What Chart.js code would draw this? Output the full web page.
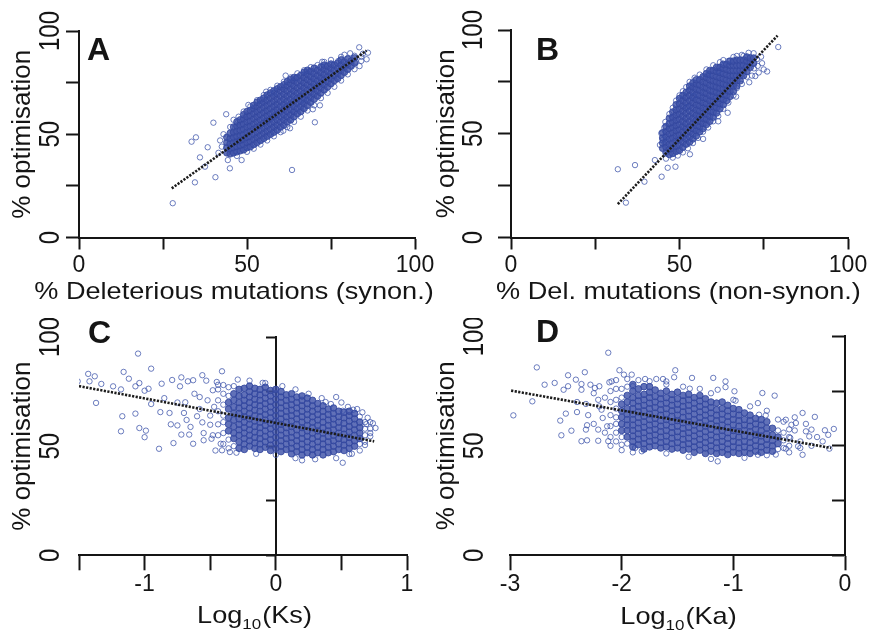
<!DOCTYPE html>
<html><head><meta charset="utf-8">
<script src="https://cdn.jsdelivr.net/npm/chart.js@4.4.1/dist/chart.umd.min.js"></script>
<style>
html,body{margin:0;padding:0;background:#fff;}
#wrap{position:relative;width:872px;height:637px;overflow:hidden;background:#fff;}
canvas{position:absolute;}
</style></head><body>
<div id="wrap">
<canvas id="cA" width="446" height="318" style="left:0;top:0"></canvas>
<canvas id="cB" width="436" height="318" style="left:436px;top:0"></canvas>
<canvas id="cC" width="436" height="319" style="left:0;top:318px"></canvas>
<canvas id="cD" width="436" height="319" style="left:436px;top:318px"></canvas>
</div>
<script>
// ---------- tick labels & titles ----------
const yTickLabels = [0, 50, 100];
const aXLabels = [0, 50, 100];
const bXLabels = [0, 50, 100];
const cXLabels = [-1, 0, 1];
const dXLabels = [-3, -2, -1, 0];
const yTitleText = '% optimisation';
const aXTitle = [['% Deleterious mutations (synon.)', 0]];
const bXTitle = [['% Del. mutations (non-synon.)', 0]];
const cXTitle = [['Log', 0], ['10', 1], ['(Ks)', 0]];
const dXTitle = [['Log', 0], ['10', 1], ['(Ka)', 0]];

// ---------- panel A : % deleterious (synon.) vs % optimisation ----------
const aFit = [[27.6, 23.8], [85.6, 90.5]];
const aScatter = [[27.9,16.6],[34.5,26.7],[33.5,46.4],[34.8,48.5],[36.0,38.8],[37.5,34.3],[38.3,43.7],[40.0,55.6],[40.6,29.2],[43.8,59.7],[44.9,33.5],[44.3,37.5],[48.4,37.5],[50.4,64.2],[55.7,70.6],[58.1,70.1],[61.5,78.4],[64.5,77.1],[63.4,32.7],[70.2,55.8],[69.6,62.1],[71.7,64.0],[72.4,85.1],[80.7,89.2],[83.4,92.1],[85.6,86.3],[82.4,85.1],[77.2,85.5],[67.6,80.3],[62.8,52.9],[60.8,51.7],[66.8,66.6],
[42,47],[42.5,44],[43,50],[41.5,41],[45,53.5],[46,57],[47.5,58.5],[49,61],[51,63.5],[53,66.5],[55,69],[57,71.5],[59,73.5],[61,75.5],[63,77.5],[65,79.5],[67,81],[69,82.5],[71,83.5],[73,85],[75,86],[78,87.5],[79,88.5],[82,88],[84,87.5],[84.5,89],[86,89.5],[47,39.5],[50,41.5],[52,43],[54,45],[56,47],[58,49],[60,51],[62,53.5],[64,56],[66,58.5],[68,61.5],[70,64],[72,67.5],[74,70],[76,73],[78,76],[80,79],[82,81.5],[83.5,83],[84,85.5]];
const aFringe = [];
const aCore = [
[44,[41,43.5,46,48.5]],[45,[40.5,43,45.5,48,50.5]],[46,[41,43.5,46,48.5,51,53.5]],
[47,[41.5,44,46.5,49,51.5,54,56]],[48,[42,44.5,47,49.5,52,54.5,57]],[49,[42.5,45,47.5,50,52.5,55,57.5,59.5]],
[50,[43.5,46,48.5,51,53.5,56,58.5,61]],[51,[44,46.5,49,51.5,54,56.5,59,61.5]],
[52,[45,47.5,50,52.5,55,57.5,60,62.5,64]],[53,[46,48.5,51,53.5,56,58.5,61,63.5,65.5]],
[54,[47,49.5,52,54.5,57,59.5,62,64.5,66.5]],[55,[48,50.5,53,55.5,58,60.5,63,65.5,67.5]],
[56,[49,51.5,54,56.5,59,61.5,64,66.5,69]],[57,[50,52.5,55,57.5,60,62.5,65,67.5,70]],
[58,[51,53.5,56,58.5,61,63.5,66,68.5,71]],[59,[52,54.5,57,59.5,62,64.5,67,69.5,72]],
[60,[53.5,56,58.5,61,63.5,66,68.5,71,73]],[61,[54.5,57,59.5,62,64.5,67,69.5,72,74]],
[62,[56,58.5,61,63.5,66,68.5,71,73.5,75.5]],[63,[57,59.5,62,64.5,67,69.5,72,74.5,76.5]],
[64,[58.5,61,63.5,66,68.5,71,73.5,76,77.5]],[65,[60,62.5,65,67.5,70,72.5,75,77.5]],
[66,[61,63.5,66,68.5,71,73.5,76,78.5]],[67,[62.5,65,67.5,70,72.5,75,77.5,80]],
[68,[64,66.5,69,71.5,74,76.5,79,81]],[69,[65.5,68,70.5,73,75.5,78,80.5]],
[70,[67,69.5,72,74.5,77,79.5,82]],[71,[68.5,71,73.5,76,78.5,81]],[72,[70,72.5,75,77.5,80,82.5]],
[73,[71.5,74,76.5,79,81.5,83.5]],[74,[73,75.5,78,80.5,83]],[75,[74.5,77,79.5,82,84]],
[76,[76,78.5,81,83.5]],[77,[77,79.5,82,84.5]],[78,[78.5,81,83.5,86]],[79,[80,82.5,85]],
[80,[81.5,84,86.5]],[81,[83,85.5]],[82,[84.5,87]]];

// ---------- panel B : % del. (non-synon.) vs % optimisation ----------
const bFit = [[31.7, 16.1], [79.1, 97.3]];
const bScatter = [[31.7,32.9],[34.1,16.8],[36.8,34.9],[39.6,26.9],[42.7,37.3],[44.7,29.3],[46.5,33.6],[48.8,34.1],[45.8,55.7],[44.6,50.2],[44.2,44.6],[53.1,40.1],[52.4,63.0],[54.2,68.2],[58.4,78.3],[61.6,80.2],[64.5,85.1],[66.8,67.9],[64.3,60.1],[68.5,88.0],[72.0,88.8],[70.7,74.8],[72.5,77.8],[74.2,87.1],[79.3,91.8],[73.2,82.7],[72.1,81.5],
[45,47],[45.5,53],[46,38],[47,59.5],[48,62.5],[49,66],[50,68.5],[51,70.5],[52,72.5],[53,75],[54.5,77],[56,78.5],[58,81],[60,83],[62,84.5],[63,85.5],[66,87],[67,87.5],[69,87.5],[70.5,89],[73,86],[74.5,84],[75,81],[76,80],[73.5,79.5],[71.5,78],[70,77.5],[68.5,74],[67,72],[66,68.5],[64.5,65],[63,62],[61.5,58.5],[60,56],[58.5,53],[57,51],[55.5,48],[54,45.5],[52.5,43],[51,41],[49.5,39.5],[48,38.5],[57,47.5],[61.5,56]];
const bFringe = [];
const bCore = [
[45,[43,45.5,48,50.5]],[46,[41,43.5,46,48.5,51,53.5]],[47,[40,42.5,45,47.5,50,52.5,55,57.5]],
[48,[40.5,43,45.5,48,50.5,53,55.5,58,60.5]],[49,[41.5,44,46.5,49,51.5,54,56.5,59,61.5,64]],
[50,[42,44.5,47,49.5,52,54.5,57,59.5,62,64.5,67]],[51,[43.5,46,48.5,51,53.5,56,58.5,61,63.5,66,68.5]],
[52,[45,47.5,50,52.5,55,57.5,60,62.5,65,67.5,70]],[53,[46,48.5,51,53.5,56,58.5,61,63.5,66,68.5,71,73]],
[54,[47.5,50,52.5,55,57.5,60,62.5,65,67.5,70,72.5,74.5]],[55,[49,51.5,54,56.5,59,61.5,64,66.5,69,71.5,74,76]],
[56,[51,53.5,56,58.5,61,63.5,66,68.5,71,73.5,76]],[57,[52.5,55,57.5,60,62.5,65,67.5,70,72.5,75,77.5]],
[58,[54.5,57,59.5,62,64.5,67,69.5,72,74.5,77,79]],[59,[56,58.5,61,63.5,66,68.5,71,73.5,76,78.5,80.5]],
[60,[58,60.5,63,65.5,68,70.5,73,75.5,78,80.5]],[61,[60,62.5,65,67.5,70,72.5,75,77.5,80,82]],
[62,[62,64.5,67,69.5,72,74.5,77,79.5,82]],[63,[64,66.5,69,71.5,74,76.5,79,81.5,83.5]],
[64,[66,68.5,71,73.5,76,78.5,81,83.5]],[65,[68,70.5,73,75.5,78,80.5,83,85]],
[66,[70.5,73,75.5,78,80.5,83,85]],[67,[73,75.5,78,80.5,83,85.5]],[68,[75.5,78,80.5,83,85.5]],
[69,[78,80.5,83,85.5]],[70,[80,82.5,85,87]],[71,[82,84.5,86.5]],[72,[84,86.5]]];

// ---------- panel C : log10(Ks) vs % optimisation ----------
const cFit = [[-1.5, 77.5], [0.75, 52.2]];
const cScatter = [[-1.51,79.7],[-1.43,83.1],[-1.38,82.0],[-1.42,79.7],[-1.33,78.5],[-1.37,69.8],[-1.24,77.4],[-1.18,76.0],[-1.16,84.0],[-1.12,80.9],[-1.05,92.4],[-1.07,77.4],[-1.04,78.9],[-1.00,75.4],[-0.97,76.3],[-0.95,85.5],[-1.17,63.7],[-1.18,56.8],[-1.07,64.9],[-1.04,58.3],[-0.99,57.1],[-1.0,54.1],[-0.95,69.3],[-0.88,65.6],[-0.89,48.8],[-0.87,78.6],[-0.81,65.2],[-0.79,80.3],[-0.78,51.4],[-0.75,59.5],[-0.73,77.4],[-0.72,81.5],[-0.72,55.3],[-0.70,65.2],[-0.69,70.1],[-0.67,79.7],[-0.66,55.3],[-0.65,58.8],[-0.63,51.1],[-0.63,80.2],[-0.60,63.7],[-0.58,72.5],[-0.56,82.5],[-0.56,60.9],[-0.55,56.0],[-0.55,52.7],[-0.53,80.0],[-0.50,59.8],[-0.49,53.4],[-0.48,75.6],[-0.45,79.4],[-0.41,84.3],[-0.44,78.1],[-0.42,51.1],[-0.41,48.1],[-0.35,47.3],[-0.29,80.5],[-0.08,78.9],[0.46,72.5],[0.51,42.4],[0.56,46.4],[0.76,58.3],[0.69,60.1],[0.38,70.2],[0.42,69.3],[0.59,66.7],[0.51,66.2],
[-0.85,72],[-0.8,60],[-0.75,70],[-0.68,62],[-0.62,74],[-0.58,67],[-0.52,71],[-0.5,64],[-0.48,55],[-0.47,68],[-0.46,48],[-0.2,80],[-0.1,79],[0.05,77.5],[0.15,76],[0.25,74],[0.35,72],[0.5,70],[0.55,68],[0.62,67],[0.66,65.5],[0.7,63],[0.74,60.5],[0.72,56],[0.68,50.5],[0.64,48],[0.58,46.5],[0.46,44.5],[0.3,44],[0.15,44.5],[0.0,46],[-0.15,46.5],[-0.3,47],[0.2,43.5]];
const cFringe = [[-0.44,[55,60,66,71,76]],[-0.40,[51,56,61,64,69,74,78]],[-0.36,[49,53,73,77]],[-0.32,[50,77.5]],
[0.64,[51,63.5]],[0.68,[52,55,58,61]],[0.72,[54.5,58,61]]];
const cCore = [
[-0.36,[57,60,63,67,70]],
[-0.32,[53.5,56,59,62,65,68,71,74]],[-0.28,[49,52,55,57.5,60,62.5,65,67.5,70,73,76]],
[-0.24,[48.5,51,53.5,56,58.5,61,63.5,66,68.5,71,73.5,76.5]],[-0.20,[50,52.5,55,57.5,60,62.5,65,67.5,70,72.5,75,77.5]],
[-0.16,[49,51.5,54,56.5,59,61.5,64,66.5,69,71.5,74,76.5]],[-0.12,[48.5,51,53.5,56,58.5,61,63.5,66,68.5,71,73.5,76]],
[-0.08,[49.5,52,54.5,57,59.5,62,64.5,67,69.5,72,74.5,77]],[-0.04,[48,50.5,53,55.5,58,60.5,63,65.5,68,70.5,73,75.5]],
[0.00,[49,51.5,54,56.5,59,61.5,64,66.5,69,71.5,74,76]],[0.04,[47.5,50,52.5,55,57.5,60,62.5,65,67.5,70,72.5,75]],
[0.08,[48.5,51,53.5,56,58.5,61,63.5,66,68.5,71,73.5]],[0.12,[46.5,49,51.5,54,56.5,59,61.5,64,66.5,69,71.5,74]],
[0.16,[47.5,50,52.5,55,57.5,60,62.5,65,67.5,70,72.5]],[0.20,[46,48.5,51,53.5,56,58.5,61,63.5,66,68.5,71,73]],
[0.24,[47,49.5,52,54.5,57,59.5,62,64.5,67,69.5,72]],[0.28,[46,48.5,51,53.5,56,58.5,61,63.5,66,68.5,71]],
[0.32,[47,49.5,52,54.5,57,59.5,62,64.5,67,69.5]],[0.36,[46,48.5,51,53.5,56,58.5,61,63.5,66,68.5]],
[0.40,[47,49.5,52,54.5,57,59.5,62,64.5,67]],[0.44,[47.5,50,52.5,55,57.5,60,62.5,65,67.5]],
[0.48,[48.5,51,53.5,56,58.5,61,63.5,66]],[0.52,[48,50.5,53,55.5,58,60.5,63,65.5]],
[0.56,[49,51.5,54,56.5,59,61.5,64,66]],[0.60,[50,52.5,55,57.5,60,62.5,65]],[0.64,[53.5,56,58.5,61]]];

// ---------- panel D : log10(Ka) vs % optimisation ----------
const dFit = [[-2.99, 75.2], [-0.125, 49.0]];
const dScatter = [[-2.97,63.9],[-2.80,70.3],[-2.76,85.8],[-2.69,77.9],[-2.60,78.7],[-2.55,61.5],[-2.54,54.8],[-2.52,75.6],[-2.50,64.7],[-2.48,82.2],[-2.45,56.9],[-2.48,77.2],[-2.41,80.2],[-2.40,65.4],[-2.36,78.2],[-2.36,75.6],[-2.33,83.6],[-2.32,57.4],[-2.36,52.1],[-2.31,52.5],[-2.31,59.4],[-2.32,69.1],[-2.28,77.9],[-2.24,76.4],[-2.20,77.2],[-2.21,52.3],[-2.21,57.4],[-2.21,71.0],[-2.17,62.7],[-2.18,66.5],[-2.12,52.1],[-2.13,58.9],[-2.12,92.5],[-2.11,79.0],[-2.09,79.4],[-2.02,84.5],[-1.98,82.5],[-1.91,82.5],[-1.90,77.2],[-1.88,49.0],[-1.82,47.5],[-1.79,80.5],[-1.69,80.5],[-1.63,80.5],[-1.60,79.4],[-1.52,84.5],[-1.53,81.3],[-1.37,81.0],[-1.39,76.1],[-1.18,81.0],[-1.07,79.4],[-1.07,76.8],[-1.14,75.6],[-0.99,74.9],[-0.98,70.6],[-0.78,69.5],[-0.74,74.1],[-0.63,72.9],[-0.71,63.9],[-0.77,64.2],[-0.53,61.9],[-0.48,59.6],[-0.44,60.4],[-0.38,65.0],[-0.27,63.2],[-0.30,57.4],[-0.35,56.6],[-0.18,57.1],[-0.10,57.7],[-0.14,48.7],[-0.38,45.9],[-0.42,49.8],[-0.53,48.7],[-0.32,54.3],[-0.49,53.6],[-1.14,42.9],[-0.78,45.9],[-0.70,45.7],
[-2.25,60],[-2.2,68],[-2.15,72],[-2.15,56],[-2.25,74],[-2.3,64],[-2.4,70],[-2.05,80],[-2.0,48],[-1.95,80.5],[-1.85,80],[-1.75,79.5],[-1.6,78],[-1.45,77],[-1.3,76],[-1.2,74],[-1.0,71],[-0.85,68],[-0.7,66],[-0.6,62],[-0.45,57],[-0.4,52],[-0.35,60],[-0.3,50],[-0.25,54],[-0.2,52],[-0.45,63],[-0.15,55],[-0.55,61],[-0.5,47],[-0.62,46],[-1.4,45],[-1.6,46.5],[-1.9,47],[-2.1,50],[-0.9,44.5],[-1.2,44],[-0.4,49]];
const dFringe = [[-2.10,[54,59,64,70,75]],[-2.05,[52,56,60,63,67,71,76]],[-2.00,[50.5,54,72,76]],[-1.95,[51,77]],
[-0.60,[48.5,57]],[-0.55,[49,52.5,56]],[-0.50,[50,54,57.5]]];
const dCore = [
[-2.00,[57,60,63,66,69]],
[-1.95,[54,57,59.5,62,64.5,67,70,73]],[-1.90,[49.5,52,54.5,57,59.5,62,64.5,67,69.5,72,75,78]],
[-1.85,[50.5,53,55.5,58,60.5,63,65.5,68,70.5,73,76]],[-1.80,[48.5,51,53.5,56,58.5,61,63.5,66,68.5,71,73.5,77]],
[-1.75,[49.5,52,54.5,57,59.5,62,64.5,67,69.5,72,74.5,77]],[-1.70,[50,52.5,55,57.5,60,62.5,65,67.5,70,72.5,75.5]],
[-1.65,[49,51.5,54,56.5,59,61.5,64,66.5,69,71.5,74]],[-1.60,[49.5,52,54.5,57,59.5,62,64.5,67,69.5,72,75]],
[-1.55,[48.5,51,53.5,56,58.5,61,63.5,66,68.5,71,73.5]],[-1.50,[49,51.5,54,56.5,59,61.5,64,66.5,69,71.5,74.5]],
[-1.45,[48,50.5,53,55.5,58,60.5,63,65.5,68,70.5,73]],[-1.40,[48.5,51,53.5,56,58.5,61,63.5,66,68.5,71,73.5]],
[-1.35,[47,49.5,52,54.5,57,59.5,62,64.5,67,69.5,72]],[-1.30,[48,50.5,53,55.5,58,60.5,63,65.5,68,70.5,73]],
[-1.25,[46.5,49,51.5,54,56.5,59,61.5,64,66.5,69,71.5]],[-1.20,[47.5,50,52.5,55,57.5,60,62.5,65,67.5,70]],
[-1.15,[46.5,49,51.5,54,56.5,59,61.5,64,66.5,69.5]],[-1.10,[47,49.5,52,54.5,57,59.5,62,64.5,67,70]],
[-1.05,[46,48.5,51,53.5,56,58.5,61,63.5,66,68.5]],[-1.00,[47,49.5,52,54.5,57,59.5,62,64.5,67]],
[-0.95,[46.5,49,51.5,54,56.5,59,61.5,64,66.5]],[-0.90,[47,49.5,52,54.5,57,59.5,62,65]],
[-0.85,[46.5,49,51.5,54,56.5,59,61.5,64]],[-0.80,[47.5,50,52.5,55,57.5,60,62.5]],
[-0.75,[47,49.5,52,54.5,57,59.5,62]],[-0.70,[48,50.5,53,55.5,58,61]],[-0.65,[47.5,50,52.5,55,58]],
[-0.60,[51,54]]];

// ---------- drawing ----------
const FONT = '"Liberation Sans", Arial, Helvetica, sans-serif';
const INK = '#151515';
const PT = 'rgba(52,76,166,0.72)';

const panelText = {
  id: 'panelText',
  afterDraw(chart, args, o) {
    const ctx = chart.ctx, ys = chart.scales.y;
    ctx.save();
    ctx.fillStyle = INK;
    // rotated y tick labels
    ctx.font = '24px ' + FONT;
    ctx.textAlign = 'center';
    ctx.textBaseline = 'middle';
    for (const v of yTickLabels) {
      ctx.save();
      ctx.translate(o.yLabelX, ys.getPixelForValue(v));
      ctx.rotate(-Math.PI / 2);
      ctx.scale(1, 1.2);
      ctx.fillText(String(v), 0, 0);
      ctx.restore();
    }
    // x axis title (with optional subscript parts)
    ctx.textAlign = 'left';
    ctx.textBaseline = 'alphabetic';
    const sx = 1.13;
    const fontOf = sub => (sub ? '15px ' : '24px ') + FONT;
    const widths = o.xTitle.map(([t, sub]) => { ctx.font = fontOf(sub); return ctx.measureText(t).width * sx; });
    let x = o.xTitleX - widths.reduce((a, b) => a + b, 0) / 2;
    o.xTitle.forEach(([t, sub], i) => {
      ctx.save();
      ctx.translate(x, o.xTitleY + (sub ? 6 : 0));
      ctx.scale(sx, 1);
      ctx.font = fontOf(sub);
      ctx.fillText(t, 0, 0);
      ctx.restore();
      x += widths[i] + (sub ? 1 : 0);
    });
    // panel letter
    ctx.font = 'bold 32px ' + FONT;
    ctx.fillText(o.letter, o.letterX, o.letterY);
    ctx.restore();
  }
};

function panel(id, p) {
  const cols = c => c.flatMap(([x, ys]) => ys.map(y => ({x, y})));
  const core = cols(p.core);
  const scat = p.scatter.map(([x, y]) => ({x, y})).concat(cols(p.fringe));
  const fit = p.fit.map(([x, y]) => ({x, y}));
  const yTitle = {display: true, text: yTitleText, color: INK,
    font: {family: FONT, size: 26, lineHeight: 0.8}, padding: {top: p.yTitlePad, bottom: 0}};
  const scales = {
    x: {type: 'linear', position: 'bottom', min: p.xMin, max: p.xMax,
      ticks: {stepSize: p.xStep, autoSkip: false, maxRotation: 0, minRotation: 0, padding: p.xTickPad,
        color: INK, font: {family: FONT, size: 23},
        callback: v => { const l = p.xLabels.find(l => Math.abs(l - v) < 1e-6); return l === undefined ? '' : String(l); }},
      grid: {drawOnChartArea: false, tickLength: p.xTickLen, tickWidth: 2, tickColor: INK},
      border: {display: true, color: INK, width: 2},
      title: {display: false},
      afterFit: s => { s.height = p.xAxisH; }
    }
  };
  const yAxisLine = {type: 'linear', min: 0, max: 100,
    ticks: {display: false, stepSize: 25},
    grid: {drawOnChartArea: false, tickLength: p.yTickLen, tickWidth: 2, tickColor: INK},
    border: {display: true, color: INK, width: 2}};
  if (p.centerY) {
    scales.yl = {type: 'linear', axis: 'y', position: 'left', min: 0, max: 100,
      grid: {display: false}, border: {display: false}, ticks: {display: false},
      title: yTitle, afterFit: s => { s.width = p.yAxisW; }};
    scales.y = Object.assign(yAxisLine, {position: {x: 0}});
  } else {
    scales.y = Object.assign(yAxisLine, {position: 'left', title: yTitle,
      afterFit: s => { s.width = p.yAxisW; }});
  }
  return new Chart(document.getElementById(id), {
    type: 'scatter',
    data: {datasets: [
      {data: fit, showLine: true, borderColor: '#1c1c1c', borderWidth: 2.6,
        borderDash: [2.2, 1.4], pointRadius: 0, order: 0},
      {data: core, showLine: false, pointRadius: 3.3, pointBorderWidth: 1,
        pointBorderColor: 'rgba(50,70,158,0.85)', pointBackgroundColor: 'rgba(62,82,168,0.82)', order: 2},
      {data: scat, showLine: false, pointRadius: 2.7, pointBorderWidth: 1,
        pointBorderColor: PT, pointBackgroundColor: 'rgba(0,0,0,0)', order: 1}
    ]},
    options: {
      responsive: false, animation: false, devicePixelRatio: 1, events: [],
      layout: {padding: {left: 0, top: p.padTop, right: p.padRight, bottom: 0}},
      plugins: {legend: {display: false}, tooltip: {enabled: false},
        panelText: {letter: p.letter, letterX: p.letterX, letterY: p.letterY, yLabelX: p.yLabelX,
          xTitle: p.xTitle, xTitleX: p.xTitleX, xTitleY: p.xTitleY}},
      scales
    },
    plugins: [panelText]
  });
}

panel('cA', {core: aCore, fringe: aFringe, scatter: aScatter, fit: aFit, xMin: 0, xMax: 100, xStep: 25, xLabels: aXLabels,
  xTitle: aXTitle, xTitleX: 234, xTitleY: 299, padTop: 31, padRight: 31, yAxisW: 79, xAxisH: 80.5,
  xTickLen: 12, yTickLen: 13, xTickPad: 2, yTitlePad: 12.6,
  letter: 'A', letterX: 87, letterY: 60, yLabelX: 51, centerY: false});
panel('cB', {core: bCore, fringe: bFringe, scatter: bScatter, fit: bFit, xMin: 0, xMax: 100, xStep: 25, xLabels: bXLabels,
  xTitle: bXTitle, xTitleX: 242.5, xTitleY: 299, padTop: 30, padRight: 24, yAxisW: 75, xAxisH: 80.5,
  xTickLen: 12, yTickLen: 13, xTickPad: 2, yTitlePad: 0.6,
  letter: 'B', letterX: 100, letterY: 60, yLabelX: 38, centerY: false});
panel('cC', {core: cCore, fringe: cFringe, scatter: cScatter, fit: cFit, xMin: -1.5, xMax: 1, xStep: 0.5, xLabels: cXLabels,
  xTitle: cXTitle, xTitleX: 254, xTitleY: 305, padTop: 19, padRight: 29, yAxisW: 79, xAxisH: 81.7,
  xTickLen: 15, yTickLen: 9, xTickPad: 1, yTitlePad: 12.6,
  letter: 'C', letterX: 88, letterY: 25, yLabelX: 51, centerY: true});
panel('cD', {core: dCore, fringe: dFringe, scatter: dScatter, fit: dFit, xMin: -3, xMax: 0, xStep: 1, xLabels: dXLabels,
  xTitle: dXTitle, xTitleX: 242, xTitleY: 306, padTop: 18.3, padRight: 27, yAxisW: 74, xAxisH: 81.7,
  xTickLen: 15, yTickLen: 12, xTickPad: 1, yTitlePad: 0.6,
  letter: 'D', letterX: 100, letterY: 24, yLabelX: 39, centerY: true});
</script>
</body></html>
